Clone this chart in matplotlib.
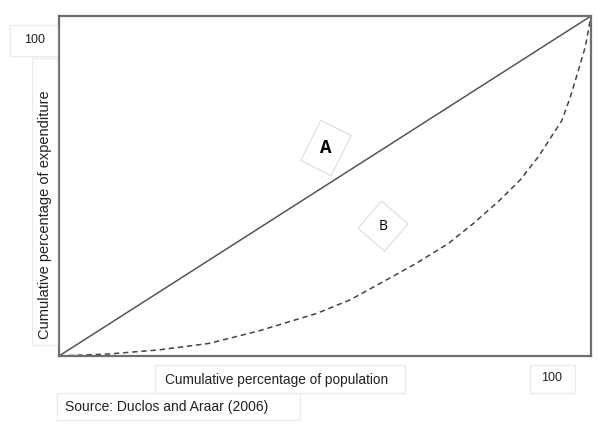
import matplotlib.pyplot as plt
import matplotlib.patches as mpatches
import matplotlib.transforms as mtransforms

plt.rcParams['font.family'] = ['Liberation Sans', 'DejaVu Sans']

# equality line and Lorenz curve (percent)
equal_x = [0, 100]
equal_y = [0, 100]
pop_pct = [0, 9.4, 18.8, 28.2, 37.6, 48.4, 54.7, 61.0, 67.2, 73.2, 77.9, 82.9,
           86.7, 90.1, 94.5, 96.1, 97.6, 98.9, 99.5, 100]
exp_pct = [0, 0.6, 1.8, 3.7, 7.4, 12.5, 16.5, 21.9, 27.3, 33.1, 39.0, 45.9,
           51.8, 58.6, 69.2, 76.1, 83.9, 90.8, 95.7, 100]

W, H = 599, 428
fig = plt.figure(figsize=(W / 100, H / 100), dpi=100)
ax = fig.add_axes([59 / W, 1 - 356 / H, 532 / W, 340 / H])

ax.plot(equal_x, equal_y, color='#555555', lw=1.1)
ax.plot(pop_pct, exp_pct, color='#444444', lw=1.1, ls=(0, (3.5, 2.5)))
ax.set_xlim(0, 100)
ax.set_ylim(0, 100)
ax.set_xticks([])
ax.set_yticks([])
for s in ax.spines.values():
    s.set_color('#6e6e6e')
    s.set_linewidth(1.6)


def px(x, y):
    # top-left pixel coords -> figure fraction
    return x / W, 1 - y / H


def box(x0, y0, x1, y1):
    fx, fy = px(x0, y1)
    fig.add_artist(mpatches.Rectangle((fx, fy), (x1 - x0) / W, (y1 - y0) / H,
                                      transform=fig.transFigure, fill=False,
                                      edgecolor='#ececec', lw=1.0))


# faint text boxes
box(10, 25, 57, 56)
box(32, 58, 57, 345)
box(155, 365, 405, 393)
box(530, 365, 575, 393)
box(57, 393, 300, 420)

fig.text(*px(35, 40), '100', ha='center', va='center', fontsize=9, color='#222222')
fig.text(*px(45, 215), 'Cumulative percentage of expenditure', ha='center', va='center',
         rotation=90, fontsize=10.5, color='#222222')
fig.text(*px(277, 380), 'Cumulative percentage of population', ha='center', va='center',
         fontsize=9.8, color='#222222')
fig.text(*px(552, 378), '100', ha='center', va='center', fontsize=9, color='#222222')
fig.text(*px(65, 407), 'Source: Duclos and Araar (2006)', ha='left', va='center',
         fontsize=10, color='#222222')


def tilted(cx, cy, w, h, ang, label, size, weight):
    t = mtransforms.Affine2D().rotate_deg_around(cx, H - cy, ang)
    rect = mpatches.Rectangle((cx - w / 2, H - cy - h / 2), w, h, fill=False,
                              edgecolor='#e2e2e2', lw=1.0,
                              transform=t + mtransforms.IdentityTransform())
    fig.add_artist(rect)
    fig.text(*px(cx, cy), label, ha='center', va='center', fontsize=size,
             fontweight=weight, color='black', family=['Open Sans', 'DejaVu Sans'])


tilted(326, 148, 34, 45, -26.6, 'A', 12, 'bold')
tilted(383, 226, 35, 36, -41, 'B', 10, 'normal')

fig.savefig('out.png', dpi=100)
